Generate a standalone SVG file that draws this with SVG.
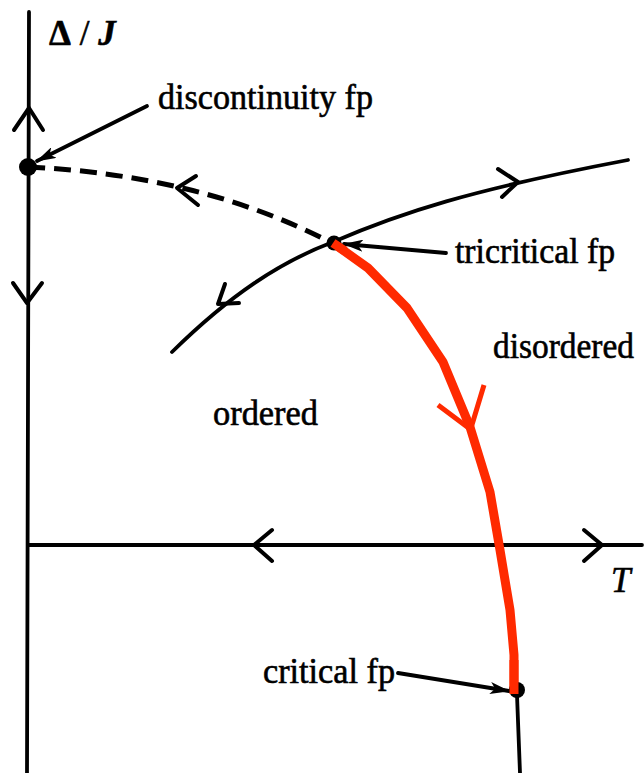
<svg xmlns="http://www.w3.org/2000/svg" width="644" height="773" viewBox="0 0 644 773">
<style>
.t{font-family:"Liberation Serif","Times New Roman",serif;font-size:35px;fill:#000;stroke:#000;stroke-width:0.6}
.ln{fill:none;stroke:#000;stroke-width:3.8;stroke-linecap:round;stroke-linejoin:round}
.ch{fill:none;stroke:#000;stroke-width:4;stroke-linecap:round;stroke-linejoin:round}
.red{fill:none;stroke:#ff2a00;stroke-linejoin:round}
.pt{stroke:none;fill:#000}
</style>
<defs>
<marker id="ah" viewBox="0 0 20 12" refX="19" refY="6" markerWidth="20" markerHeight="12" markerUnits="userSpaceOnUse" orient="auto">
<path d="M0,0 L20,6 L0,12 L5,6 Z" fill="#000"/>
</marker>
</defs>
<rect width="644" height="773" fill="#fff"/>
<g id="axes">
<path class="ln" d="M29,12 L27,773"/>
<path class="ln" d="M28,545 L642,545"/>
<path class="ch" d="M14,130 L29,108 L43,130"/>
<path class="ch" d="M13,283 L27,303 L42,283"/>
<path class="ch" d="M272,530 L254,545 L272,561"/>
<path class="ch" d="M584,530 L602,545 L584,561"/>
</g>
<g id="connectors">
<path d="M28,167 Q200,175 330,242" fill="none" stroke="#000" stroke-width="5" stroke-dasharray="17 9"/>
<path class="ch" stroke-width="4.5" d="M196,176 L177,188 L198,205"/>
<path class="ln" d="M172,352 C230,295 280,262 333,242 C400,213 470,190 628,160"/>
<path class="ch" d="M239,303 L218,304 L225,284"/>
<path class="ch" d="M498,169 L518,182 L502,197"/>
<path class="red" stroke-width="9" d="M333,243 L368,268 L407,308 L443,362 L470,427 L490,492 L500,550 L510,610 L514,655 L514,692"/>
<path class="red" stroke-width="5" d="M438,405 L470,429 M484,385 L471,428"/>
<path class="ln" d="M517,695 L520,773"/>
<path class="ln" stroke-width="4" d="M147,106 L37,161" marker-end="url(#ah)"/>
<path class="ln" stroke-width="4" d="M446,253 L344,244" marker-end="url(#ah)"/>
<path class="ln" stroke-width="4" d="M398,673 L509,691" marker-end="url(#ah)"/>
</g>
<g id="discontinuity-fp">
<circle class="pt" cx="28" cy="167" r="9"/>
<text class="t" x="158" y="109" textLength="215" lengthAdjust="spacingAndGlyphs">discontinuity fp</text>
</g>
<g id="tricritical-fp">
<circle class="pt" cx="334" cy="243" r="7.5"/>
<path class="red" stroke-width="9" d="M333,243 L345,251"/>
<text class="t" x="455" y="263" textLength="160" lengthAdjust="spacingAndGlyphs">tricritical fp</text>
</g>
<g id="critical-fp">
<circle class="pt" cx="517" cy="690" r="8"/>
<path class="red" stroke-width="9" d="M514,660 L514,694"/>
<text class="t" x="263" y="683" textLength="132" lengthAdjust="spacingAndGlyphs">critical fp</text>
</g>
<g id="labels">
<text class="t" x="493" y="358" textLength="141" lengthAdjust="spacingAndGlyphs">disordered</text>
<text class="t" x="213" y="425" textLength="105" lengthAdjust="spacingAndGlyphs">ordered</text>
<text class="t" x="49" y="45" font-size="31"><tspan font-weight="bold">Δ</tspan> / <tspan font-style="italic" font-weight="bold">J</tspan></text>
<text class="t" x="611" y="592" font-size="31" font-style="italic">T</text>
</g>
</svg>
